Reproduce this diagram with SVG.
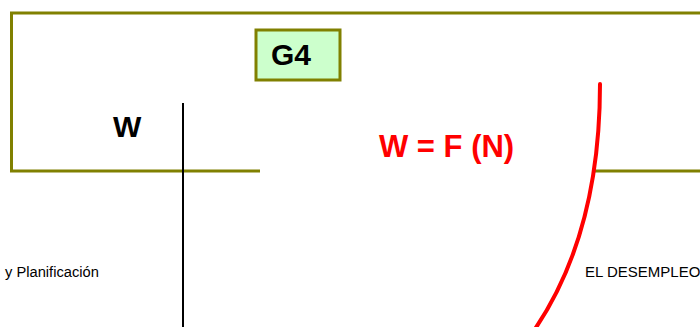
<svg xmlns="http://www.w3.org/2000/svg" width="700" height="327" viewBox="0 0 700 327">
<style>
.frame{fill:none;stroke:#808000;stroke-width:3}
.big{font-family:"Liberation Sans",Arial,sans-serif;font-weight:bold;font-size:30px;fill:#000}
.small{font-family:"Liberation Sans",Arial,sans-serif;font-size:14.7px;fill:#000}
</style>
<rect width="700" height="327" fill="#fff"/>
<g id="frame">
<path class="frame" d="M260,171 H11.5 V13 H702"/>
<path class="frame" d="M595,171 H702"/>
</g>
<g id="g4">
<rect x="256" y="30" width="84" height="50" fill="#ccffcc" stroke="#808000" stroke-width="3"/>
<text class="big" x="271" y="65">G4</text>
</g>
<g id="w-label">
<text class="big" x="113" y="137">W</text>
</g>
<g id="formula">
<text class="big" x="379" y="157" style="fill:#ff0000;font-size:31px">W = F (N)</text>
</g>
<g id="connectors">
<line x1="183" y1="103" x2="183" y2="327" stroke="#000" stroke-width="2"/>
<path d="M600,84 C600,190 575,270 535,329" fill="none" stroke="#ff0000" stroke-width="4" stroke-linecap="round"/>
</g>
<g id="footer">
<text class="small" x="5" y="277">y Planificación</text>
<text class="small" x="585" y="277" style="font-size:15px">EL DESEMPLEO</text>
</g>
</svg>
